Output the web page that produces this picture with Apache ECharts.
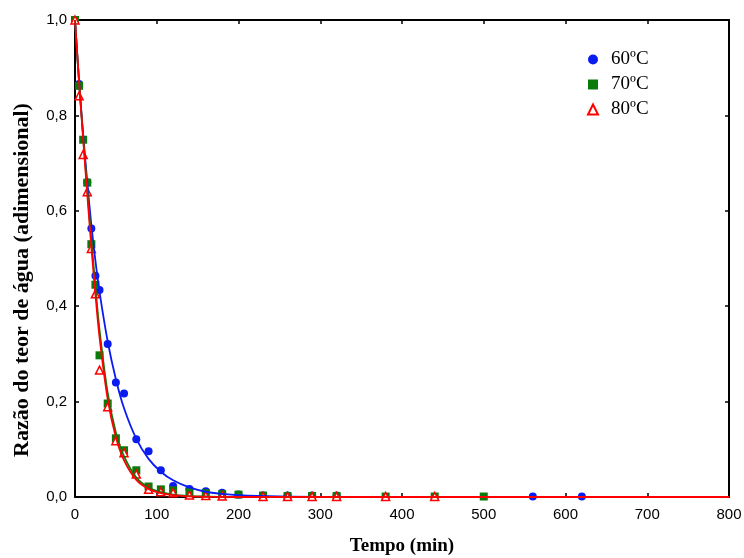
<!DOCTYPE html>
<html>
<head>
<meta charset="utf-8">
<script src="https://cdn.jsdelivr.net/npm/echarts@6/dist/echarts.min.js"></script>
<style>
  html, body { margin: 0; padding: 0; background: #fff; }
  #chart { width: 744px; height: 558px; }
</style>
</head>
<body>
<div id="chart"></div>
<script>
// measured points (time in min, moisture ratio)
const t60 = [0, 5, 15, 20, 25, 30, 40, 50, 60, 75, 90, 105, 120, 140, 160, 180, 200, 230, 260, 290, 320, 560, 620];
const mr60 = [1.0, 0.866, 0.66, 0.563, 0.464, 0.434, 0.321, 0.240, 0.217, 0.121, 0.096, 0.056, 0.023, 0.017, 0.012, 0.009, 0.005, 0.003, 0.003, 0.003, 0.003, 0.001, 0.001];
const t70 = [0, 5, 10, 15, 20, 25, 30, 40, 50, 60, 75, 90, 105, 120, 140, 160, 180, 200, 230, 260, 290, 320, 380, 440, 500];
const mr70 = [1.0, 0.862, 0.749, 0.659, 0.530, 0.445, 0.297, 0.196, 0.123, 0.098, 0.056, 0.022, 0.016, 0.014, 0.010, 0.008, 0.006, 0.005, 0.003, 0.002, 0.002, 0.002, 0.001, 0.001, 0.001];
const t80 = [0, 5, 10, 15, 20, 25, 30, 40, 50, 60, 75, 90, 105, 120, 140, 160, 180, 230, 260, 290, 320, 380, 440];
const mr80 = [1.0, 0.841, 0.718, 0.640, 0.521, 0.426, 0.266, 0.189, 0.118, 0.093, 0.048, 0.016, 0.011, 0.009, 0.004, 0.003, 0.002, 0.001, 0.001, 0.001, 0.001, 0.001, 0.001];

// fitted curves
const tFit60 = [0, 5, 10, 15, 20, 25, 30, 40, 50, 60, 75, 90, 105, 120, 140, 160, 180, 200, 250, 300, 400, 800];
const fit60 = [1.0, 0.87, 0.76, 0.66, 0.57, 0.495, 0.43, 0.326, 0.247, 0.186, 0.122, 0.080, 0.053, 0.035, 0.020, 0.011, 0.0065, 0.0037, 0.001, 0.0002, 0, 0];
const tFit70 = [0, 5, 10, 15, 20, 25, 30, 40, 50, 60, 75, 90, 105, 120, 140, 160, 200, 800];
const fit70 = [1.0, 0.87, 0.755, 0.645, 0.54, 0.44, 0.35, 0.218, 0.135, 0.085, 0.041, 0.02, 0.01, 0.005, 0.002, 0.001, 0, 0];
const tFit80 = [0, 5, 10, 15, 20, 25, 30, 40, 50, 60, 75, 90, 105, 120, 140, 160, 200, 800];
const fit80 = [1.0, 0.87, 0.75, 0.635, 0.525, 0.425, 0.335, 0.205, 0.125, 0.077, 0.036, 0.017, 0.008, 0.004, 0.0015, 0.0005, 0, 0];

const zip = (a, b) => a.map((v, i) => [v, b[i]]);
const comma = (v) => v.toFixed(1).replace(".", ",");

const chart = echarts.init(document.getElementById("chart"));
const tick = { show: true, inside: true, length: 4, lineStyle: { color: "#000", width: 1.5 } };
const line = { show: true, onZero: false, lineStyle: { color: "#000", width: 2 } };
const serif = "'Liberation Serif', 'Times New Roman', serif";
const sans = "'Liberation Sans', Arial, sans-serif";

chart.setOption({
  animation: false,
  grid: { left: 75, right: 15, top: 20, bottom: 61, containLabel: false, outerBoundsMode: "none" },
  legend: {
    orient: "vertical", left: 582, top: 45, itemGap: 6, itemWidth: 10, itemHeight: 10,
    data: ["60ºC", "70ºC", "80ºC"],
    textStyle: { fontFamily: serif, fontSize: 19, color: "#000", padding: [0, 0, 0, 8] },
  },
  // y title drawn by hand: it sits a bit below the middle of the axis
  graphic: [{
    type: "text", x: 22, y: 280, rotation: Math.PI / 2,
    style: { text: "Razão do teor de água (adimensional)", fontFamily: serif, fontWeight: "bold", fontSize: 22,
      fill: "#000", align: "center", verticalAlign: "middle" },
  }],
  xAxis: [
    { type: "value", min: 0, max: 800, interval: 100, axisLine: line, axisTick: tick, splitLine: { show: false },
      axisLabel: { color: "#000", fontFamily: sans, fontSize: 15, margin: 10 },
      name: "Tempo (min)", nameLocation: "middle", nameGap: 40,
      nameTextStyle: { fontFamily: serif, fontWeight: "bold", fontSize: 19, color: "#000" } },
    { type: "value", position: "top", min: 0, max: 800, interval: 100, axisLine: line, axisTick: tick,
      axisLabel: { show: false }, splitLine: { show: false } },
  ],
  yAxis: [
    { type: "value", min: 0, max: 1, interval: 0.2, axisLine: line, axisTick: tick, splitLine: { show: false },
      axisLabel: { color: "#000", fontFamily: sans, fontSize: 15, margin: 8, formatter: comma } },
    { type: "value", position: "right", min: 0, max: 1, interval: 0.2, axisLine: line, axisTick: tick,
      axisLabel: { show: false }, splitLine: { show: false } },
  ],
  series: [
    { name: "60ºC", type: "scatter", symbol: "circle", symbolSize: 8, z: 2,
      itemStyle: { color: "#0a1cf0", opacity: 1 }, data: zip(t60, mr60) },
    { name: "70ºC", type: "scatter", symbol: "rect", symbolSize: 8, z: 2,
      itemStyle: { color: "#0a7a0a", opacity: 1 }, data: zip(t70, mr70) },
    { name: "80ºC", type: "scatter", symbol: "triangle", symbolSize: 8, z: 3,
      itemStyle: { color: "#fff", borderColor: "#ff0000", borderWidth: 1.5, opacity: 1 }, data: zip(t80, mr80) },
    { type: "line", smooth: 0.3, showSymbol: false, z: 4, lineStyle: { color: "#0a1cf0", width: 1.8 }, data: zip(tFit60, fit60) },
    { type: "line", smooth: 0.3, showSymbol: false, z: 4, lineStyle: { color: "#0a7a0a", width: 1.8 }, data: zip(tFit70, fit70) },
    { type: "line", smooth: 0.3, showSymbol: false, z: 5, lineStyle: { color: "#ff0000", width: 1.8 }, data: zip(tFit80, fit80) },
  ],
});
</script>
</body>
</html>
